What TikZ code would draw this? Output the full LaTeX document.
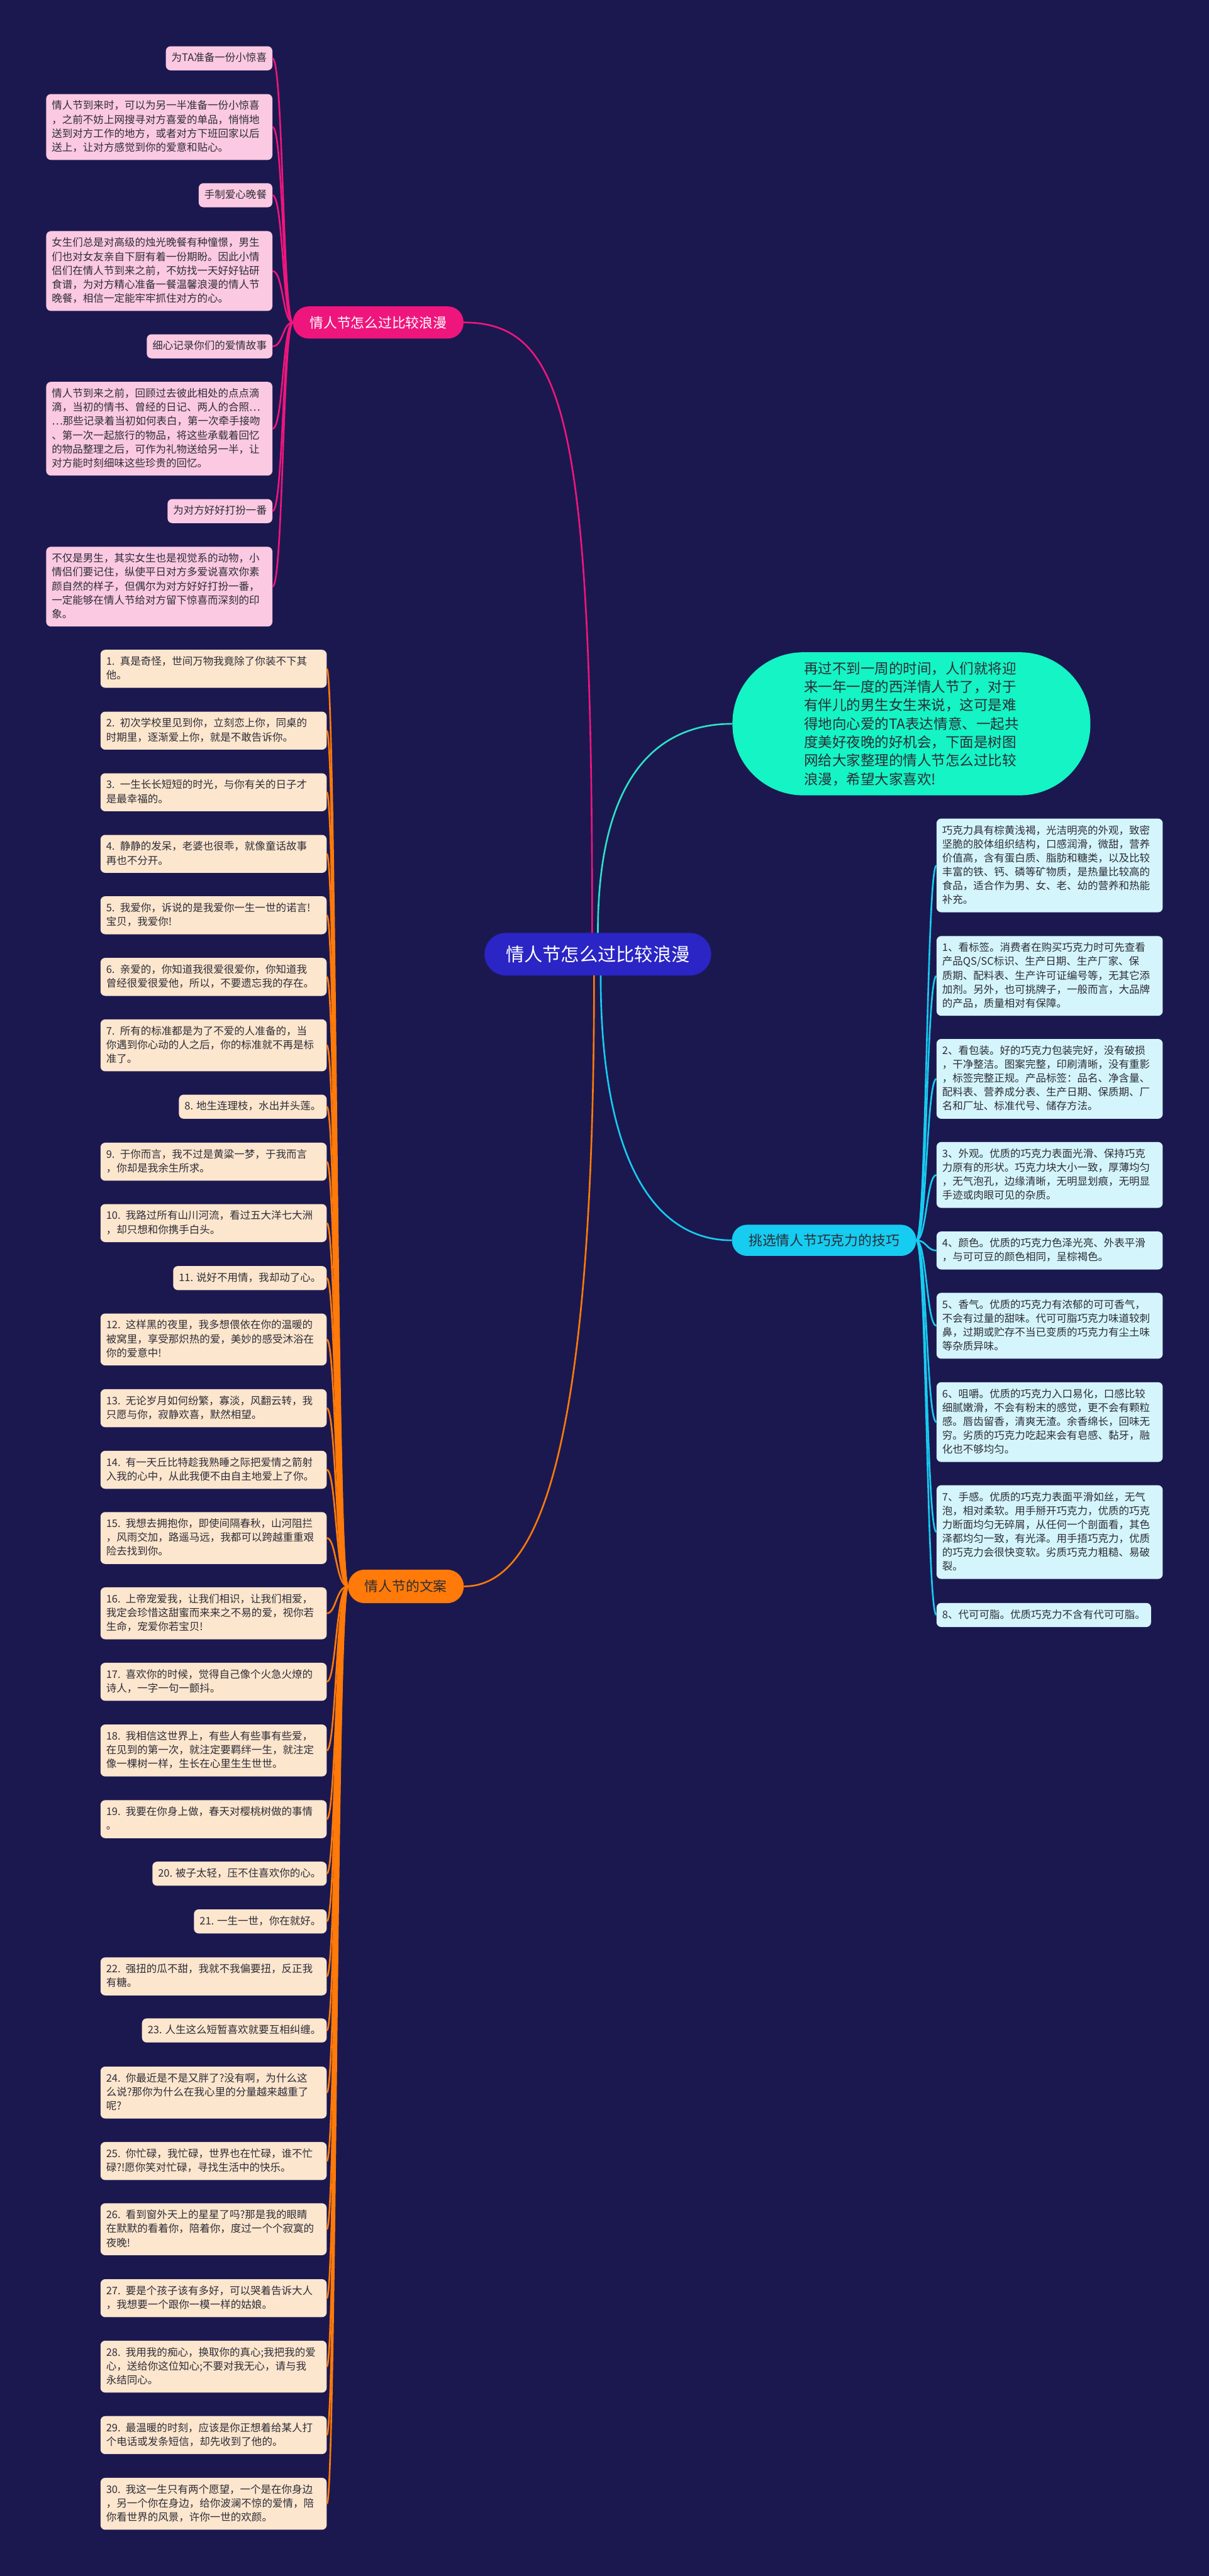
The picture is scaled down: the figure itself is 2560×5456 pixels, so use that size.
\documentclass[tikz,border=0pt]{standalone}
\usepackage{fontspec}
\setmainfont{Noto Sans CJK SC}
\usepackage{tikz}

\definecolor{bgnavy}{RGB}{27,24,80}
\definecolor{rootblue}{RGB}{42,37,196}
\definecolor{introgreen}{RGB}{20,244,196}
\definecolor{introline}{RGB}{44,226,198}
\definecolor{hotpink}{RGB}{238,22,124}
\definecolor{pinkfill}{RGB}{251,201,225}
\definecolor{deeporange}{RGB}{255,122,8}
\definecolor{peachfill}{RGB}{253,230,206}
\definecolor{skycyan}{RGB}{22,204,240}
\definecolor{icefill}{RGB}{212,245,251}
\definecolor{inktext}{RGB}{45,45,55}

\newcommand{\leaffont}{\fontsize{22}{29.5}\selectfont}
\newcommand{\hubfont}{\fontsize{29}{36}\selectfont}

\tikzset{
  leafbox/.style={rounded corners=10pt, inner xsep=12pt, inner ysep=13.5pt,
    text=inktext, font=\leaffont, align=left,
    execute at begin node={\vrule height 19pt depth 0pt width 0pt},
    execute at end node={\vrule height 0pt depth 5pt width 0pt}},
  wide/.style={text width=455pt},
  pinkleaf/.style={leafbox, fill=pinkfill, anchor=east},
  peachleaf/.style={leafbox, fill=peachfill, anchor=east},
  iceleaf/.style={leafbox, fill=icefill, anchor=west},
  hubbox/.style={rounded corners=33pt, minimum height=68pt, inner xsep=35.5pt, font=\hubfont},
  hubpink/.style={hubbox, fill=hotpink, text=white},
  hubpeach/.style={hubbox, fill=deeporange, text=inktext, minimum height=71pt, rounded corners=35pt},
  hubice/.style={hubbox, fill=skycyan, text=inktext, minimum height=66pt, rounded corners=32pt},
  rootbox/.style={fill=rootblue, text=white, rounded corners=45pt, minimum width=480pt,
    minimum height=90pt, font=\fontsize{39}{46}\selectfont},
  introbox/.style={fill=introgreen, text=inktext, rounded corners=150pt, minimum width=758pt,
    minimum height=303pt, text width=455pt, align=left, font=\fontsize{30}{39}\selectfont},
  pinkedge/.style={draw=hotpink, line width=3.5pt},
  peachedge/.style={draw=deeporange, line width=3.5pt},
  iceedge/.style={draw=skycyan, line width=3.5pt},
  introedge/.style={draw=introline, line width=3.5pt}
}

\begin{document}
\begin{tikzpicture}[x=1pt, y=-1pt]
\fill[bgnavy] (0,0) rectangle (2560,5456);

\node[rootbox] (root) at (1266,2021) {情人节怎么过比较浪漫};
\node[introbox] (intro) at (1930,1533) {再过不到一周的时间，人们就将迎\\来一年一度的西洋情人节了，对于\\有伴儿的男生女生来说，这可是难\\得地向心爱的TA表达情意、一起共\\度美好夜晚的好机会，下面是树图\\网给大家整理的情人节怎么过比较\\浪漫，希望大家喜欢!};
\node[hubpink] (romance) at (801,683) {情人节怎么过比较浪漫};
\node[hubice] (choco) at (1745,2627) {挑选情人节巧克力的技巧};
\node[hubpeach] (quotes) at (859.5,3360) {情人节的文案};

\draw[pinkedge] ([xshift=-12pt]root.north) .. controls +(0,-1076) and +(218,0) .. (romance.east);
\draw[introedge] (root.north) .. controls +(0,-330) and +(-160,0) .. (intro.west);
\draw[iceedge] ([xshift=6pt]root.south) .. controls +(0,380) and +(-170,0) .. (choco.west);
\draw[peachedge] ([xshift=-8pt]root.south) .. controls +(0,1080) and +(140,0) .. (quotes.east);

\node[pinkleaf] (r1) at (577,123.5) {为TA准备一份小惊喜};
\node[pinkleaf, wide] (r2) at (577,269) {情人节到来时，可以为另一半准备一份小惊喜\\，之前不妨上网搜寻对方喜爱的单品，悄悄地\\送到对方工作的地方，或者对方下班回家以后\\送上，让对方感觉到你的爱意和贴心。};
\node[pinkleaf] (r3) at (577,413.5) {手制爱心晚餐};
\node[pinkleaf, wide] (r4) at (577,574) {女生们总是对高级的烛光晚餐有种憧憬，男生\\们也对女友亲自下厨有着一份期盼。因此小情\\侣们在情人节到来之前，不妨找一天好好钻研\\食谱，为对方精心准备一餐温馨浪漫的情人节\\晚餐，相信一定能牢牢抓住对方的心。};
\node[pinkleaf] (r5) at (577,733.5) {细心记录你们的爱情故事};
\node[pinkleaf, wide] (r6) at (577,908) {情人节到来之前，回顾过去彼此相处的点点滴\\滴，当初的情书、曾经的日记、两人的合照…\\…那些记录着当初如何表白，第一次牵手接吻\\、第一次一起旅行的物品，将这些承载着回忆\\的物品整理之后，可作为礼物送给另一半，让\\对方能时刻细味这些珍贵的回忆。};
\node[pinkleaf] (r7) at (577,1082.5) {为对方好好打扮一番};
\node[pinkleaf, wide] (r8) at (577,1242.5) {不仅是男生，其实女生也是视觉系的动物，小\\情侣们要记住，纵使平日对方多爱说喜欢你素\\颜自然的样子，但偶尔为对方好好打扮一番，\\一定能够在情人节给对方留下惊喜而深刻的印\\象。};

\draw[pinkedge] (romance.west) .. controls +(-22,0) and +(23,0) .. (r1.east);
\draw[pinkedge] (romance.west) .. controls +(-22,0) and +(23,0) .. (r2.east);
\draw[pinkedge] (romance.west) .. controls +(-22,0) and +(23,0) .. (r3.east);
\draw[pinkedge] (romance.west) .. controls +(-22,0) and +(23,0) .. (r4.east);
\draw[pinkedge] (romance.west) .. controls +(-22,0) and +(23,0) .. (r5.east);
\draw[pinkedge] (romance.west) .. controls +(-22,0) and +(23,0) .. (r6.east);
\draw[pinkedge] (romance.west) .. controls +(-22,0) and +(23,0) .. (r7.east);
\draw[pinkedge] (romance.west) .. controls +(-22,0) and +(23,0) .. (r8.east);

\node[iceleaf, wide] (c1) at (1983,1833) {巧克力具有棕黄浅褐，光洁明亮的外观，致密\\坚脆的胶体组织结构，口感润滑，微甜，营养\\价值高，含有蛋白质、脂肪和糖类，以及比较\\丰富的铁、钙、磷等矿物质，是热量比较高的\\食品，适合作为男、女、老、幼的营养和热能\\补充。};
\node[iceleaf, wide] (c2) at (1983,2067) {1、看标签。消费者在购买巧克力时可先查看\\产品QS/SC标识、生产日期、生产厂家、保\\质期、配料表、生产许可证编号等，无其它添\\加剂。另外，也可挑牌子，一般而言，大品牌\\的产品，质量相对有保障。};
\node[iceleaf, wide] (c3) at (1983,2285) {2、看包装。好的巧克力包装完好，没有破损\\，干净整洁。图案完整，印刷清晰，没有重影\\，标签完整正规。产品标签：品名、净含量、\\配料表、营养成分表、生产日期、保质期、厂\\名和厂址、标准代号、储存方法。};
\node[iceleaf, wide] (c4) at (1983,2488.5) {3、外观。优质的巧克力表面光滑、保持巧克\\力原有的形状。巧克力块大小一致，厚薄均匀\\，无气泡孔，边缘清晰，无明显划痕，无明显\\手迹或肉眼可见的杂质。};
\node[iceleaf, wide] (c5) at (1983,2648.5) {4、颜色。优质的巧克力色泽光亮、外表平滑\\，与可可豆的颜色相同，呈棕褐色。};
\node[iceleaf, wide] (c6) at (1983,2808) {5、香气。优质的巧克力有浓郁的可可香气，\\不会有过量的甜味。代可可脂巧克力味道较刺\\鼻，过期或贮存不当已变质的巧克力有尘土味\\等杂质异味。};
\node[iceleaf, wide] (c7) at (1983,3012) {6、咀嚼。优质的巧克力入口易化，口感比较\\细腻嫩滑，不会有粉末的感觉，更不会有颗粒\\感。唇齿留香，清爽无渣。余香绵长，回味无\\穷。劣质的巧克力吃起来会有皂感、黏牙，融\\化也不够均匀。};
\node[iceleaf, wide] (c8) at (1983,3245) {7、手感。优质的巧克力表面平滑如丝，无气\\泡，相对柔软。用手掰开巧克力，优质的巧克\\力断面均匀无碎屑，从任何一个剖面看，其色\\泽都均匀一致，有光泽。用手捂巧克力，优质\\的巧克力会很快变软。劣质巧克力粗糙、易破\\裂。};
\node[iceleaf] (c9) at (1983,3420.5) {8、代可可脂。优质巧克力不含有代可可脂。};

\draw[iceedge] (choco.east) .. controls +(22,0) and +(-21,0) .. (c1.west);
\draw[iceedge] (choco.east) .. controls +(22,0) and +(-21,0) .. (c2.west);
\draw[iceedge] (choco.east) .. controls +(22,0) and +(-21,0) .. (c3.west);
\draw[iceedge] (choco.east) .. controls +(22,0) and +(-21,0) .. (c4.west);
\draw[iceedge] (choco.east) .. controls +(22,0) and +(-21,0) .. (c5.west);
\draw[iceedge] (choco.east) .. controls +(22,0) and +(-21,0) .. (c6.west);
\draw[iceedge] (choco.east) .. controls +(22,0) and +(-21,0) .. (c7.west);
\draw[iceedge] (choco.east) .. controls +(22,0) and +(-21,0) .. (c8.west);
\draw[iceedge] (choco.east) .. controls +(22,0) and +(-21,0) .. (c9.west);

\node[peachleaf, wide] (q1) at (692,1416.5) {1. 真是奇怪，世间万物我竟除了你装不下其\\他。};
\node[peachleaf, wide] (q2) at (692,1547.5) {2. 初次学校里见到你，立刻恋上你，同桌的\\时期里，逐渐爱上你，就是不敢告诉你。};
\node[peachleaf, wide] (q3) at (692,1678) {3. 一生长长短短的时光，与你有关的日子才\\是最幸福的。};
\node[peachleaf, wide] (q4) at (692,1808.5) {4. 静静的发呆，老婆也很乖，就像童话故事\\再也不分开。};
\node[peachleaf, wide] (q5) at (692,1938.5) {5. 我爱你，诉说的是我爱你一生一世的诺言!\\宝贝，我爱你!};
\node[peachleaf, wide] (q6) at (692,2069) {6. 亲爱的，你知道我很爱很爱你，你知道我\\曾经很爱很爱他，所以，不要遗忘我的存在。};
\node[peachleaf, wide] (q7) at (692,2214) {7. 所有的标准都是为了不爱的人准备的，当\\你遇到你心动的人之后，你的标准就不再是标\\准了。};
\node[peachleaf] (q8) at (692,2344) {8. 地生连理枝，水出并头莲。};
\node[peachleaf, wide] (q9) at (692,2460.5) {9. 于你而言，我不过是黄粱一梦，于我而言\\，你却是我余生所求。};
\node[peachleaf, wide] (q10) at (692,2590.5) {10. 我路过所有山川河流，看过五大洋七大洲\\，却只想和你携手白头。};
\node[peachleaf] (q11) at (692,2707) {11. 说好不用情，我却动了心。};
\node[peachleaf, wide] (q12) at (692,2837) {12. 这样黑的夜里，我多想偎依在你的温暖的\\被窝里，享受那炽热的爱，美妙的感受沐浴在\\你的爱意中!};
\node[peachleaf, wide] (q13) at (692,2982.5) {13. 无论岁月如何纷繁，寡淡，风翻云转，我\\只愿与你，寂静欢喜，默然相望。};
\node[peachleaf, wide] (q14) at (692,3113) {14. 有一天丘比特趁我熟睡之际把爱情之箭射\\入我的心中，从此我便不由自主地爱上了你。};
\node[peachleaf, wide] (q15) at (692,3257.5) {15. 我想去拥抱你，即使间隔春秋，山河阻拦\\，风雨交加，路遥马远，我都可以跨越重重艰\\险去找到你。};
\node[peachleaf, wide] (q16) at (692,3417) {16. 上帝宠爱我，让我们相识，让我们相爱，\\我定会珍惜这甜蜜而来来之不易的爱，视你若\\生命，宠爱你若宝贝!};
\node[peachleaf, wide] (q17) at (692,3562) {17. 喜欢你的时候，觉得自己像个火急火燎的\\诗人，一字一句一颤抖。};
\node[peachleaf, wide] (q18) at (692,3707.5) {18. 我相信这世界上，有些人有些事有些爱，\\在见到的第一次，就注定要羁绊一生，就注定\\像一棵树一样，生长在心里生生世世。};
\node[peachleaf, wide] (q19) at (692,3853) {19. 我要在你身上做，春天对樱桃树做的事情\\。};
\node[peachleaf] (q20) at (692,3968.5) {20. 被子太轻，压不住喜欢你的心。};
\node[peachleaf] (q21) at (692,4069.5) {21. 一生一世，你在就好。};
\node[peachleaf, wide] (q22) at (692,4186) {22. 强扭的瓜不甜，我就不我偏要扭，反正我\\有糖。};
\node[peachleaf] (q23) at (692,4300.5) {23. 人生这么短暂喜欢就要互相纠缠。};
\node[peachleaf, wide] (q24) at (692,4432) {24. 你最近是不是又胖了?没有啊，为什么这\\么说?那你为什么在我心里的分量越来越重了\\呢?};
\node[peachleaf, wide] (q25) at (692,4577) {25. 你忙碌，我忙碌，世界也在忙碌，谁不忙\\碌?!愿你笑对忙碌，寻找生活中的快乐。};
\node[peachleaf, wide] (q26) at (692,4721.5) {26. 看到窗外天上的星星了吗?那是我的眼睛\\在默默的看着你，陪着你，度过一个个寂寞的\\夜晚!};
\node[peachleaf, wide] (q27) at (692,4867.5) {27. 要是个孩子该有多好，可以哭着告诉大人\\，我想要一个跟你一模一样的姑娘。};
\node[peachleaf, wide] (q28) at (692,5012.5) {28. 我用我的痴心，换取你的真心;我把我的爱\\心，送给你这位知心;不要对我无心，请与我\\永结同心。};
\node[peachleaf, wide] (q29) at (692,5157.5) {29. 最温暖的时刻，应该是你正想着给某人打\\个电话或发条短信，却先收到了他的。};
\node[peachleaf, wide] (q30) at (692,5303) {30. 我这一生只有两个愿望，一个是在你身边\\，另一个你在身边，给你波澜不惊的爱情，陪\\你看世界的风景，许你一世的欢颜。};

\draw[peachedge] (quotes.west) .. controls +(-25,0) and +(20,0) .. (q1.east);
\draw[peachedge] (quotes.west) .. controls +(-25,0) and +(20,0) .. (q2.east);
\draw[peachedge] (quotes.west) .. controls +(-25,0) and +(20,0) .. (q3.east);
\draw[peachedge] (quotes.west) .. controls +(-25,0) and +(20,0) .. (q4.east);
\draw[peachedge] (quotes.west) .. controls +(-25,0) and +(20,0) .. (q5.east);
\draw[peachedge] (quotes.west) .. controls +(-25,0) and +(20,0) .. (q6.east);
\draw[peachedge] (quotes.west) .. controls +(-25,0) and +(20,0) .. (q7.east);
\draw[peachedge] (quotes.west) .. controls +(-25,0) and +(20,0) .. (q8.east);
\draw[peachedge] (quotes.west) .. controls +(-25,0) and +(20,0) .. (q9.east);
\draw[peachedge] (quotes.west) .. controls +(-25,0) and +(20,0) .. (q10.east);
\draw[peachedge] (quotes.west) .. controls +(-25,0) and +(20,0) .. (q11.east);
\draw[peachedge] (quotes.west) .. controls +(-25,0) and +(20,0) .. (q12.east);
\draw[peachedge] (quotes.west) .. controls +(-25,0) and +(20,0) .. (q13.east);
\draw[peachedge] (quotes.west) .. controls +(-25,0) and +(20,0) .. (q14.east);
\draw[peachedge] (quotes.west) .. controls +(-25,0) and +(20,0) .. (q15.east);
\draw[peachedge] (quotes.west) .. controls +(-25,0) and +(20,0) .. (q16.east);
\draw[peachedge] (quotes.west) .. controls +(-25,0) and +(20,0) .. (q17.east);
\draw[peachedge] (quotes.west) .. controls +(-25,0) and +(20,0) .. (q18.east);
\draw[peachedge] (quotes.west) .. controls +(-25,0) and +(20,0) .. (q19.east);
\draw[peachedge] (quotes.west) .. controls +(-25,0) and +(20,0) .. (q20.east);
\draw[peachedge] (quotes.west) .. controls +(-25,0) and +(20,0) .. (q21.east);
\draw[peachedge] (quotes.west) .. controls +(-25,0) and +(20,0) .. (q22.east);
\draw[peachedge] (quotes.west) .. controls +(-25,0) and +(20,0) .. (q23.east);
\draw[peachedge] (quotes.west) .. controls +(-25,0) and +(20,0) .. (q24.east);
\draw[peachedge] (quotes.west) .. controls +(-25,0) and +(20,0) .. (q25.east);
\draw[peachedge] (quotes.west) .. controls +(-25,0) and +(20,0) .. (q26.east);
\draw[peachedge] (quotes.west) .. controls +(-25,0) and +(20,0) .. (q27.east);
\draw[peachedge] (quotes.west) .. controls +(-25,0) and +(20,0) .. (q28.east);
\draw[peachedge] (quotes.west) .. controls +(-25,0) and +(20,0) .. (q29.east);
\draw[peachedge] (quotes.west) .. controls +(-25,0) and +(20,0) .. (q30.east);
\end{tikzpicture}
\end{document}
